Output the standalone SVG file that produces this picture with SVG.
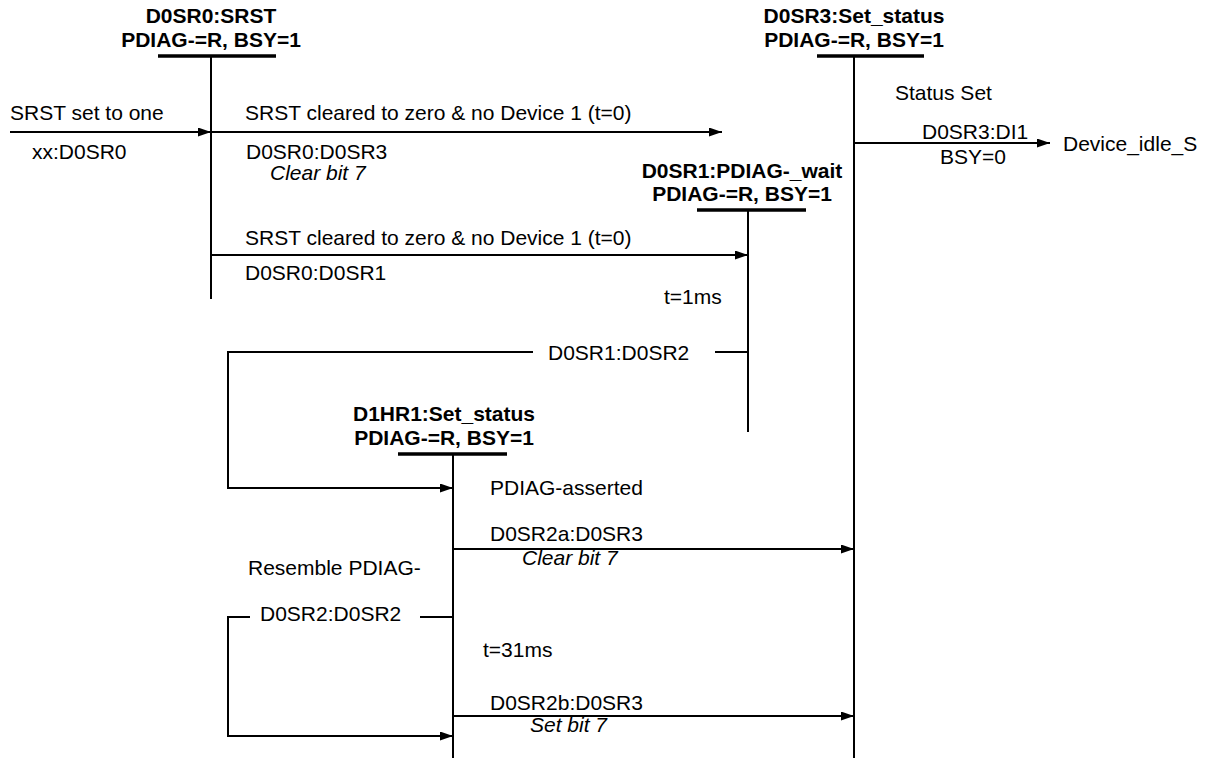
<svg xmlns="http://www.w3.org/2000/svg" width="1209" height="758" viewBox="0 0 1209 758">
<style>
text{font-family:"Liberation Sans",Arial,sans-serif;font-size:21px;fill:#000}
.t{font-weight:bold;text-anchor:middle}
.i{font-style:italic}
.bar{stroke:#000;stroke-width:3.5}
.life{stroke:#000;stroke-width:2}
.c{stroke:#000;stroke-width:2;fill:none}
.a{marker-end:url(#ah)}
</style>
<defs>
<marker id="ah" markerUnits="userSpaceOnUse" markerWidth="14" markerHeight="10" refX="13" refY="4.5" orient="auto">
<path d="M0,0 L13,4.5 L0,9 z" fill="#000"/>
</marker>
</defs>
<rect width="1209" height="758" fill="#fff"/>
<g id="D0SR0">
<text class="t" x="211" y="23">D0SR0:SRST</text>
<text class="t" x="211" y="47">PDIAG-=R, BSY=1</text>
<line class="bar" x1="158" y1="56" x2="276" y2="56"/>
<line class="life" x1="211" y1="56" x2="211" y2="299"/>
</g>
<g id="D0SR3">
<text class="t" x="854" y="23">D0SR3:Set_status</text>
<text class="t" x="854" y="47">PDIAG-=R, BSY=1</text>
<line class="bar" x1="817" y1="56" x2="924" y2="56"/>
<line class="life" x1="854" y1="56" x2="854" y2="758"/>
</g>
<g id="D0SR1">
<text class="t" x="742" y="178">D0SR1:PDIAG-_wait</text>
<text class="t" x="742" y="201">PDIAG-=R, BSY=1</text>
<line class="bar" x1="697" y1="210" x2="806" y2="210"/>
<line class="life" x1="748" y1="210" x2="748" y2="432"/>
</g>
<g id="D1HR1">
<text class="t" x="444" y="421">D1HR1:Set_status</text>
<text class="t" x="444" y="445">PDIAG-=R, BSY=1</text>
<line class="bar" x1="398" y1="454" x2="507" y2="454"/>
<line class="life" x1="453" y1="454" x2="453" y2="758"/>
</g>
<g id="connectors">
<line class="c a" x1="10" y1="132" x2="211" y2="132"/>
<text x="10" y="120">SRST set to one</text>
<text x="32" y="159">xx:D0SR0</text>

<line class="c a" x1="211" y1="132" x2="722" y2="132"/>
<text x="245" y="120">SRST cleared to zero &amp; no Device 1 (t=0)</text>
<text x="246" y="159">D0SR0:D0SR3</text>
<text class="i" x="270" y="180">Clear bit 7</text>

<text x="895" y="100">Status Set</text>
<line class="c a" x1="854" y1="143" x2="1050" y2="143"/>
<text x="922" y="139">D0SR3:DI1</text>
<text x="940" y="164">BSY=0</text>
<text x="1063" y="151">Device_idle_S</text>

<line class="c a" x1="211" y1="255" x2="748" y2="255"/>
<text x="245" y="245">SRST cleared to zero &amp; no Device 1 (t=0)</text>
<text x="245" y="280">D0SR0:D0SR1</text>

<text x="664" y="304">t=1ms</text>

<polyline class="c" points="748,352 715,352"/>
<polyline class="c a" points="533,352 228,352 228,488 453,488"/>
<text x="548" y="360">D0SR1:D0SR2</text>

<text x="490" y="495">PDIAG-asserted</text>
<line class="c a" x1="453" y1="549" x2="854" y2="549"/>
<text x="490" y="541">D0SR2a:D0SR3</text>
<text class="i" x="522" y="565">Clear bit 7</text>

<text x="248" y="575">Resemble PDIAG-</text>
<polyline class="c" points="453,617 420,617"/>
<polyline class="c a" points="250,617 228,617 228,736 453,736"/>
<text x="260" y="621">D0SR2:D0SR2</text>

<text x="483" y="657">t=31ms</text>
<line class="c a" x1="453" y1="716" x2="854" y2="716"/>
<text x="490" y="710">D0SR2b:D0SR3</text>
<text class="i" x="530" y="732">Set bit 7</text>
</g>
</svg>
